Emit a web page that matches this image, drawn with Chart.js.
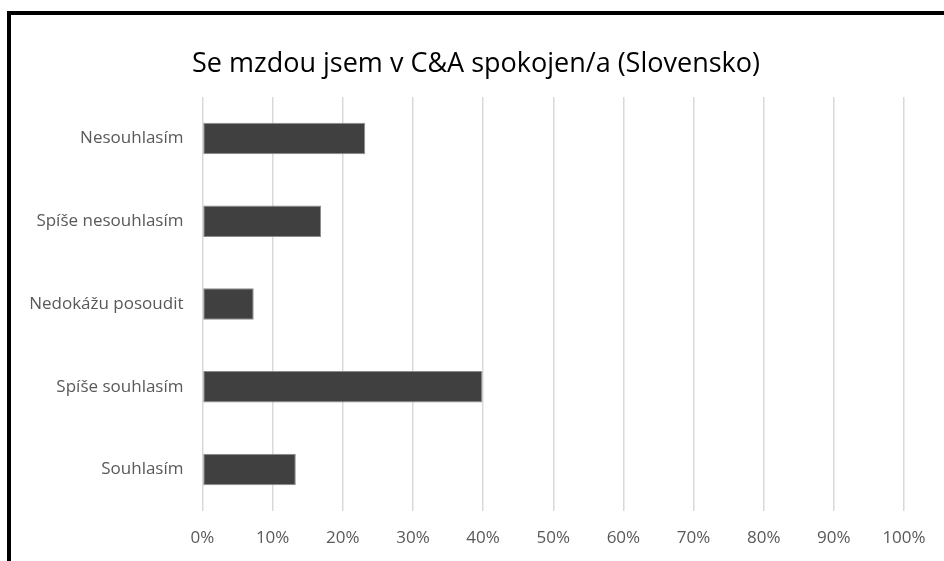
<!DOCTYPE html>
<html lang="cs">
<head>
    <meta charset="UTF-8">
    <title>Se mzdou jsem v C&amp;A spokojen/a (Slovensko)</title>
    <script src="https://cdn.jsdelivr.net/npm/chart.js"></script>
    <style>
        body {
            margin: 0;
            padding: 0;
            background: #ffffff;
            overflow: hidden;
        }
        .frame {
            position: absolute;
            left: 7px;
            top: 11px;
            width: 1000px;
            height: 600px;
            border-left: 4px solid #000000;
            border-top: 4px solid #000000;
        }
        #chart {
            position: absolute;
            left: 0;
            top: 0;
        }
    </style>
</head>
<body>
    <div class="frame"></div>
    <canvas id="chart" width="944" height="561"></canvas>

    <script>
        // Data
        const categories = ['Nesouhlasím', 'Spíše nesouhlasím', 'Nedokážu posoudit', 'Spíše souhlasím', 'Souhlasím'];
        const shares = [23.2, 16.9, 7.3, 39.9, 13.3];
        const tickMax = 100;
        const tickStep = 10;

        const fontFamily = '"Open Sans", "Noto Sans", sans-serif';

        const ctx = document.getElementById('chart').getContext('2d');
        const chart = new Chart(ctx, {
            type: 'bar',
            data: {
                labels: categories,
                datasets: [{
                    data: shares,
                    backgroundColor: '#404040',
                    borderColor: '#8c8c8c',
                    borderWidth: 1,
                    borderSkipped: false,
                    barPercentage: 0.76,
                    categoryPercentage: 0.5
                }]
            },
            options: {
                indexAxis: 'y',
                responsive: false,
                animation: false,
                layout: {
                    padding: { left: 12, right: 4, top: 0, bottom: 0 }
                },
                plugins: {
                    legend: { display: false },
                    tooltip: { enabled: false },
                    title: {
                        display: true,
                        text: 'Se mzdou jsem v C&A spokojen/a (Slovensko)',
                        color: '#000000',
                        font: { family: fontFamily, size: 27, weight: 'normal' },
                        padding: { top: 48, bottom: 16.6 }
                    }
                },
                scales: {
                    x: {
                        min: 0,
                        max: tickMax,
                        ticks: {
                            stepSize: tickStep,
                            color: '#595959',
                            padding: 17,
                            font: { family: fontFamily, size: 17 },
                            callback: v => v + '%'
                        },
                        grid: {
                            color: '#d9d9d9',
                            lineWidth: 1.5,
                            drawTicks: false
                        },
                        border: { display: false },
                        afterFit: scale => { scale.height = 50; }
                    },
                    y: {
                        ticks: {
                            color: '#595959',
                            padding: 19,
                            font: { family: fontFamily, size: 17 }
                        },
                        grid: { display: false, drawTicks: false },
                        border: { display: false },
                        afterFit: scale => { scale.width = 190.5; }
                    },
                    // empty right-hand spacer so the title centres like the original
                    ySpacer: {
                        axis: 'y',
                        type: 'category',
                        position: 'right',
                        ticks: { display: false },
                        grid: { display: false, drawTicks: false },
                        border: { display: false },
                        afterFit: scale => { scale.width = 36; }
                    }
                }
            }
        });
    </script>
</body>
</html>
